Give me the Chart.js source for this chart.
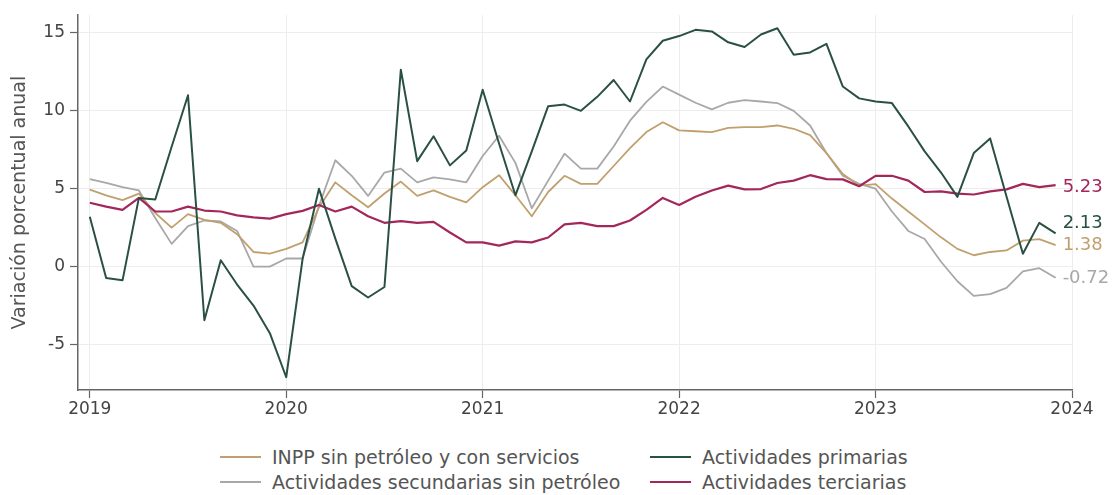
<!DOCTYPE html>
<html lang="es">
<head>
<meta charset="utf-8">
<title>Variación porcentual anual</title>
<script src="https://cdn.jsdelivr.net/npm/chart.js@4.4.1/dist/chart.umd.min.js"></script>
<style>
  html, body { margin: 0; padding: 0; background: #fff; }
  #wrap { position: relative; width: 1115px; height: 495px; font-family: 'DejaVu Sans', sans-serif; }
  #chart-box { position: absolute; left: 0; top: 0; width: 1115px; height: 430px; }
  .leg { position: absolute; height: 24px; line-height: 24px; font-size: 19px; color: #555; white-space: nowrap; }
  .leg i { position: absolute; left: 0; top: 11px; width: 41px; height: 2px; }
  .leg span { position: absolute; left: 52px; top: 0; }
</style>
</head>
<body>
<div id="wrap">
  <div id="chart-box"><canvas id="grafica"></canvas></div>
  <div id="leyenda"></div>
</div>
<script>
(function () {
  'use strict';

  // meses: enero 2019 a diciembre 2023
  var anioInicial = 2019;
  var totalMeses = 60;

  var yTicks = [-5, 0, 5, 10, 15];
  var xTicks = [2019, 2020, 2021, 2022, 2023, 2024];

  var nombres = [
    'INPP sin petróleo y con servicios',
    'Actividades primarias',
    'Actividades secundarias sin petróleo',
    'Actividades terciarias'
  ];

  var inpp = [
    4.94, 4.58, 4.27, 4.69, 3.44, 2.5, 3.37, 3.0, 2.81, 2.08, 0.94, 0.83,
    1.14, 1.56, 3.8, 5.41, 4.58, 3.81, 4.69, 5.46, 4.54, 4.89, 4.48, 4.12,
    5.1, 5.87, 4.58, 3.23, 4.79, 5.83, 5.31, 5.31, 6.46, 7.6, 8.64, 9.27,
    8.75, 8.69, 8.64, 8.91, 8.96, 8.96, 9.06, 8.85, 8.44, 7.29, 5.94, 5.2,
    5.3, 4.37, 3.54, 2.71, 1.88, 1.14, 0.73, 0.94, 1.04, 1.67, 1.77, 1.38
  ];

  var primarias = [
    3.2, -0.73, -0.88, 4.41, 4.31, 7.7, 11.0, -3.44, 0.41, -1.15, -2.5, -4.27,
    -7.1, 0.5, 5.0, 1.8, -1.25, -1.98, -1.31, 12.64, 6.77, 8.37, 6.5, 7.46,
    11.35, 7.9, 4.58, 7.4, 10.3, 10.4, 10.0, 10.9, 11.98, 10.6, 13.3, 14.5,
    14.8, 15.2, 15.1, 14.4, 14.1, 14.9, 15.3, 13.6, 13.75, 14.3, 11.56, 10.8,
    10.6, 10.5, 9.0, 7.4, 6.04, 4.48, 7.29, 8.23, 4.5, 0.83, 2.81, 2.13
  ];

  var secundarias = [
    5.62, 5.37, 5.11, 4.89, 3.12, 1.46, 2.6, 2.96, 2.9, 2.29, 0.0, 0.0,
    0.52, 0.52, 3.9, 6.83, 5.83, 4.54, 6.04, 6.29, 5.41, 5.73, 5.6, 5.41,
    7.1, 8.4, 6.66, 3.75, 5.52, 7.25, 6.29, 6.29, 7.71, 9.37, 10.58, 11.56,
    11.04, 10.52, 10.1, 10.52, 10.69, 10.6, 10.5, 10.0, 9.06, 7.29, 5.83, 5.31,
    5.0, 3.54, 2.29, 1.77, 0.31, -0.94, -1.88, -1.77, -1.36, -0.31, -0.1, -0.72
  ];

  var terciarias = [
    4.1, 3.85, 3.64, 4.41, 3.54, 3.54, 3.85, 3.6, 3.54, 3.29, 3.16, 3.08,
    3.37, 3.58, 3.96, 3.54, 3.85, 3.23, 2.81, 2.92, 2.81, 2.87, 2.19, 1.56,
    1.56, 1.35, 1.62, 1.56, 1.87, 2.71, 2.81, 2.6, 2.6, 2.96, 3.64, 4.41,
    3.96, 4.48, 4.89, 5.2, 4.96, 4.98, 5.37, 5.52, 5.87, 5.62, 5.6, 5.16,
    5.83, 5.83, 5.52, 4.79, 4.83, 4.69, 4.63, 4.83, 4.96, 5.31, 5.1, 5.23
  ];

  var colores = {
    inpp: '#c0a06e',
    primarias: '#2a5044',
    secundarias: '#a8a8aa',
    terciarias: '#a3275a'
  };

  function puntos(valores) {
    var out = [];
    for (var i = 0; i < totalMeses; i++) {
      out.push({ x: anioInicial + i / 12, y: valores[i] });
    }
    return out;
  }

  var etiquetasFinales = {
    id: 'etiquetasFinales',
    afterDatasetsDraw: function (chart) {
      var ctx = chart.ctx;
      ctx.save();
      ctx.font = '18px "DejaVu Sans", sans-serif';
      ctx.textBaseline = 'middle';
      ctx.textAlign = 'left';
      chart.data.datasets.forEach(function (ds, i) {
        var meta = chart.getDatasetMeta(i);
        var ultimo = meta.data[meta.data.length - 1];
        var valor = ds.data[ds.data.length - 1].y;
        ctx.fillStyle = ds.borderColor;
        ctx.fillText(valor.toFixed(2), ultimo.x + 7, ultimo.y + (ds.dyEtiqueta || 0));
      });
      ctx.restore();
    }
  };

  var datasets = [
    { label: nombres[1], data: puntos(primarias), borderColor: colores.primarias, borderWidth: 2, dyEtiqueta: -10 },
    { label: nombres[3], data: puntos(terciarias), borderColor: colores.terciarias, borderWidth: 2.2, dyEtiqueta: 2 },
    { label: nombres[0], data: puntos(inpp), borderColor: colores.inpp, borderWidth: 1.8, dyEtiqueta: 0 },
    { label: nombres[2], data: puntos(secundarias), borderColor: colores.secundarias, borderWidth: 1.8, dyEtiqueta: 0 }
  ];

  var rejilla = {
    color: '#ededed',
    lineWidth: 1,
    borderDash: [4, 3],
    tickColor: '#666',
    tickLength: 8,
    tickBorderDash: [],
    tickWidth: 1.2
  };

  new Chart(document.getElementById('grafica'), {
    type: 'line',
    data: { datasets: datasets },
    plugins: [etiquetasFinales],
    options: {
      responsive: true,
      maintainAspectRatio: false,
      animation: false,
      layout: { padding: { top: 5, right: 43, left: 0, bottom: 0 } },
      elements: {
        point: { radius: 0 },
        line: { tension: 0, fill: false, borderJoinStyle: 'round' }
      },
      plugins: {
        legend: { display: false },
        tooltip: { enabled: false }
      },
      scales: {
        x: {
          type: 'linear',
          min: 2018.94,
          max: 2024,
          grid: rejilla,
          border: { display: true, color: '#666', width: 1.5 },
          ticks: {
            color: '#444',
            font: { family: 'DejaVu Sans', size: 17 },
            padding: 1,
            maxRotation: 0,
            callback: function (v) { return String(v); }
          },
          afterBuildTicks: function (s) {
            s.ticks = xTicks.map(function (v) { return { value: v }; });
          },
          afterFit: function (s) { s.height = 40; }
        },
        y: {
          min: -7.92,
          max: 16.14,
          grid: rejilla,
          border: { display: true, color: '#666', width: 1.5 },
          ticks: {
            color: '#444',
            font: { family: 'DejaVu Sans', size: 17 },
            padding: 5
          },
          afterBuildTicks: function (s) {
            s.ticks = yTicks.map(function (v) { return { value: v }; });
          },
          afterFit: function (s) { s.width = 78; },
          title: {
            display: true,
            text: 'Variación porcentual anual',
            color: '#555',
            font: { family: 'DejaVu Sans', size: 19 },
            padding: { top: 9, bottom: 0 }
          }
        }
      }
    }
  });

  // leyenda en dos columnas
  var leyenda = document.getElementById('leyenda');
  var posiciones = [
    { nombre: nombres[0], color: colores.inpp, left: 220, top: 445 },
    { nombre: nombres[1], color: colores.primarias, left: 650, top: 445 },
    { nombre: nombres[2], color: colores.secundarias, left: 220, top: 470 },
    { nombre: nombres[3], color: colores.terciarias, left: 650, top: 470 }
  ];
  posiciones.forEach(function (p) {
    var el = document.createElement('div');
    el.className = 'leg';
    el.style.left = p.left + 'px';
    el.style.top = p.top + 'px';
    el.innerHTML = '<i style="background:' + p.color + '"></i><span></span>';
    el.querySelector('span').textContent = p.nombre;
    leyenda.appendChild(el);
  });
})();
</script>
</body>
</html>
